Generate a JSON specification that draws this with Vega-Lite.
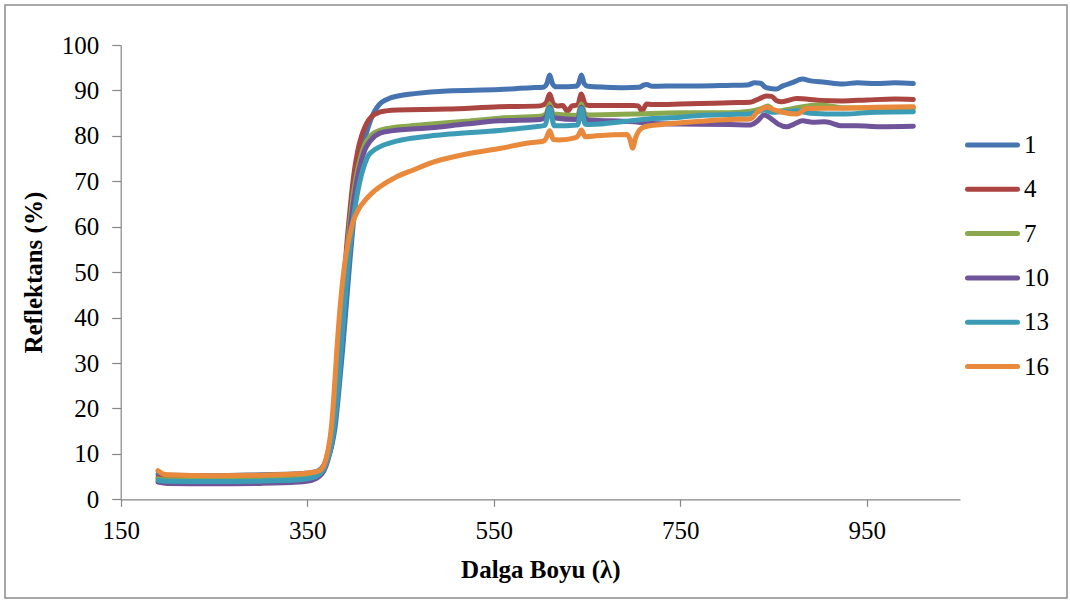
{
  "$schema": "https://vega.github.io/schema/vega-lite/v6.json",
  "width": 1062,
  "height": 593,
  "autosize": {"type": "none"},
  "padding": {"left": 5, "top": 5, "right": 3, "bottom": 5},
  "background": "white",
  "config": {"view": {"stroke": "#8c8c8c", "strokeWidth": 1.5}, "font": "Liberation Serif"},
  "data": {"values": [
{"s":"1","x":190,"y":5.5},{"s":"1","x":200,"y":5.3},{"s":"1","x":250,"y":5.2},{"s":"1","x":300,"y":5.4},{"s":"1","x":340,"y":5.6},{"s":"1","x":355,"y":5.9},{"s":"1","x":362,"y":6.3},{"s":"1","x":368,"y":7.5},{"s":"1","x":372,"y":9},{"s":"1","x":376,"y":11.5},{"s":"1","x":380,"y":16},{"s":"1","x":384,"y":24},{"s":"1","x":388,"y":33},{"s":"1","x":392,"y":43},{"s":"1","x":396,"y":53},{"s":"1","x":400,"y":62},{"s":"1","x":404,"y":70},{"s":"1","x":408,"y":75.5},{"s":"1","x":412,"y":79.5},{"s":"1","x":416,"y":82.3},{"s":"1","x":420,"y":84.5},{"s":"1","x":425,"y":86.3},{"s":"1","x":430,"y":87.4},{"s":"1","x":440,"y":88.4},{"s":"1","x":450,"y":88.9},{"s":"1","x":465,"y":89.3},{"s":"1","x":500,"y":89.9},{"s":"1","x":556,"y":90.2},{"s":"1","x":590,"y":90.6},{"s":"1","x":603,"y":90.7},{"s":"1","x":607,"y":91.5},{"s":"1","x":610,"y":93.4},{"s":"1","x":613,"y":91.5},{"s":"1","x":617,"y":90.8},{"s":"1","x":630,"y":90.8},{"s":"1","x":638,"y":90.9},{"s":"1","x":641,"y":91.5},{"s":"1","x":644,"y":93.4},{"s":"1","x":647,"y":91.5},{"s":"1","x":651,"y":90.9},{"s":"1","x":670,"y":90.7},{"s":"1","x":690,"y":90.6},{"s":"1","x":706,"y":90.7},{"s":"1","x":711,"y":91.2},{"s":"1","x":714,"y":91.3},{"s":"1","x":720,"y":90.9},{"s":"1","x":750,"y":91.0},{"s":"1","x":771,"y":91.0},{"s":"1","x":800,"y":91.1},{"s":"1","x":822,"y":91.2},{"s":"1","x":830,"y":91.7},{"s":"1","x":836,"y":91.6},{"s":"1","x":842,"y":90.6},{"s":"1","x":848,"y":90.4},{"s":"1","x":853,"y":90.3},{"s":"1","x":860,"y":91.0},{"s":"1","x":870,"y":91.7},{"s":"1","x":881,"y":92.5},{"s":"1","x":890,"y":92.1},{"s":"1","x":905,"y":91.8},{"s":"1","x":924,"y":91.4},{"s":"1","x":940,"y":91.7},{"s":"1","x":960,"y":91.5},{"s":"1","x":980,"y":91.7},{"s":"1","x":1000,"y":91.5},
{"s":"4","x":190,"y":4.8},{"s":"4","x":200,"y":4.6},{"s":"4","x":250,"y":4.5},{"s":"4","x":300,"y":4.6},{"s":"4","x":340,"y":4.9},{"s":"4","x":355,"y":5.3},{"s":"4","x":362,"y":6},{"s":"4","x":368,"y":7.5},{"s":"4","x":372,"y":10},{"s":"4","x":376,"y":14},{"s":"4","x":380,"y":21},{"s":"4","x":384,"y":32},{"s":"4","x":388,"y":44},{"s":"4","x":392,"y":55},{"s":"4","x":396,"y":64},{"s":"4","x":400,"y":71.5},{"s":"4","x":404,"y":76.5},{"s":"4","x":408,"y":79.8},{"s":"4","x":412,"y":82.0},{"s":"4","x":416,"y":83.5},{"s":"4","x":420,"y":84.4},{"s":"4","x":425,"y":85.0},{"s":"4","x":435,"y":85.5},{"s":"4","x":447,"y":85.7},{"s":"4","x":500,"y":85.9},{"s":"4","x":556,"y":86.4},{"s":"4","x":600,"y":86.6},{"s":"4","x":606,"y":87.2},{"s":"4","x":610,"y":89.2},{"s":"4","x":614,"y":87.0},{"s":"4","x":618,"y":86.6},{"s":"4","x":624,"y":86.7},{"s":"4","x":629,"y":85.4},{"s":"4","x":634,"y":86.6},{"s":"4","x":640,"y":86.8},{"s":"4","x":644,"y":89.2},{"s":"4","x":648,"y":87.0},{"s":"4","x":652,"y":86.7},{"s":"4","x":700,"y":86.7},{"s":"4","x":705,"y":86.6},{"s":"4","x":709,"y":85.5},{"s":"4","x":714,"y":87.0},{"s":"4","x":720,"y":86.9},{"s":"4","x":750,"y":87.0},{"s":"4","x":771,"y":87.1},{"s":"4","x":803,"y":87.3},{"s":"4","x":825,"y":87.4},{"s":"4","x":835,"y":88.2},{"s":"4","x":843,"y":88.8},{"s":"4","x":848,"y":88.7},{"s":"4","x":853,"y":87.8},{"s":"4","x":859,"y":87.5},{"s":"4","x":875,"y":88.2},{"s":"4","x":900,"y":87.8},{"s":"4","x":924,"y":87.7},{"s":"4","x":950,"y":87.9},{"s":"4","x":980,"y":88.1},{"s":"4","x":1000,"y":88.0},
{"s":"7","x":190,"y":4.5},{"s":"7","x":200,"y":4.3},{"s":"7","x":250,"y":4.2},{"s":"7","x":300,"y":4.3},{"s":"7","x":340,"y":4.6},{"s":"7","x":355,"y":5},{"s":"7","x":362,"y":5.7},{"s":"7","x":368,"y":7},{"s":"7","x":372,"y":9.3},{"s":"7","x":376,"y":13},{"s":"7","x":380,"y":20},{"s":"7","x":384,"y":30},{"s":"7","x":388,"y":42},{"s":"7","x":392,"y":52.5},{"s":"7","x":396,"y":61.5},{"s":"7","x":400,"y":68},{"s":"7","x":404,"y":72.5},{"s":"7","x":408,"y":75.8},{"s":"7","x":412,"y":78.2},{"s":"7","x":416,"y":79.5},{"s":"7","x":420,"y":80.4},{"s":"7","x":433,"y":81.5},{"s":"7","x":460,"y":82.2},{"s":"7","x":483,"y":82.6},{"s":"7","x":520,"y":83.2},{"s":"7","x":556,"y":83.9},{"s":"7","x":600,"y":84.3},{"s":"7","x":606,"y":84.8},{"s":"7","x":610,"y":87.0},{"s":"7","x":614,"y":84.8},{"s":"7","x":640,"y":84.5},{"s":"7","x":644,"y":87.0},{"s":"7","x":648,"y":84.8},{"s":"7","x":652,"y":84.6},{"s":"7","x":700,"y":84.8},{"s":"7","x":750,"y":85.1},{"s":"7","x":803,"y":85.1},{"s":"7","x":825,"y":85.4},{"s":"7","x":837,"y":86.0},{"s":"7","x":844,"y":86.6},{"s":"7","x":852,"y":85.4},{"s":"7","x":870,"y":86.0},{"s":"7","x":899,"y":86.8},{"s":"7","x":924,"y":86.2},{"s":"7","x":960,"y":86.1},{"s":"7","x":1000,"y":86.1},
{"s":"10","x":190,"y":3.8},{"s":"10","x":200,"y":3.5},{"s":"10","x":250,"y":3.4},{"s":"10","x":300,"y":3.5},{"s":"10","x":340,"y":3.8},{"s":"10","x":355,"y":4.2},{"s":"10","x":362,"y":4.9},{"s":"10","x":368,"y":6.3},{"s":"10","x":372,"y":8.5},{"s":"10","x":376,"y":12},{"s":"10","x":380,"y":18.5},{"s":"10","x":384,"y":28},{"s":"10","x":388,"y":40},{"s":"10","x":392,"y":50.5},{"s":"10","x":396,"y":59.5},{"s":"10","x":400,"y":66},{"s":"10","x":404,"y":71},{"s":"10","x":408,"y":74.5},{"s":"10","x":412,"y":77},{"s":"10","x":418,"y":79},{"s":"10","x":428,"y":80.6},{"s":"10","x":440,"y":81.1},{"s":"10","x":483,"y":81.8},{"s":"10","x":520,"y":82.6},{"s":"10","x":556,"y":83.3},{"s":"10","x":600,"y":83.6},{"s":"10","x":606,"y":84.2},{"s":"10","x":610,"y":86.3},{"s":"10","x":614,"y":84.0},{"s":"10","x":640,"y":83.6},{"s":"10","x":644,"y":86.3},{"s":"10","x":648,"y":83.8},{"s":"10","x":652,"y":83.5},{"s":"10","x":700,"y":83.1},{"s":"10","x":720,"y":82.7},{"s":"10","x":750,"y":82.6},{"s":"10","x":803,"y":82.5},{"s":"10","x":825,"y":82.4},{"s":"10","x":833,"y":83.3},{"s":"10","x":840,"y":84.6},{"s":"10","x":848,"y":83.7},{"s":"10","x":855,"y":82.6},{"s":"10","x":864,"y":82.0},{"s":"10","x":872,"y":82.6},{"s":"10","x":881,"y":83.3},{"s":"10","x":892,"y":83.0},{"s":"10","x":905,"y":83.1},{"s":"10","x":924,"y":82.2},{"s":"10","x":940,"y":82.2},{"s":"10","x":964,"y":82.0},{"s":"10","x":1000,"y":82.1},
{"s":"13","x":190,"y":4.2},{"s":"13","x":200,"y":4.0},{"s":"13","x":250,"y":3.9},{"s":"13","x":300,"y":4.0},{"s":"13","x":340,"y":4.3},{"s":"13","x":355,"y":4.7},{"s":"13","x":362,"y":5.4},{"s":"13","x":368,"y":6.7},{"s":"13","x":372,"y":8.8},{"s":"13","x":376,"y":12},{"s":"13","x":380,"y":18},{"s":"13","x":384,"y":26.5},{"s":"13","x":388,"y":37.5},{"s":"13","x":392,"y":47.5},{"s":"13","x":396,"y":56},{"s":"13","x":400,"y":62.5},{"s":"13","x":404,"y":67.5},{"s":"13","x":408,"y":71.3},{"s":"13","x":412,"y":74.0},{"s":"13","x":416,"y":75.8},{"s":"13","x":420,"y":76.6},{"s":"13","x":426,"y":77.4},{"s":"13","x":447,"y":78.9},{"s":"13","x":475,"y":79.8},{"s":"13","x":503,"y":80.4},{"s":"13","x":556,"y":81.2},{"s":"13","x":590,"y":81.9},{"s":"13","x":605,"y":82.3},{"s":"13","x":610,"y":86.0},{"s":"13","x":615,"y":82.2},{"s":"13","x":640,"y":82.4},{"s":"13","x":644,"y":86.0},{"s":"13","x":648,"y":82.6},{"s":"13","x":652,"y":82.5},{"s":"13","x":700,"y":83.4},{"s":"13","x":720,"y":83.8},{"s":"13","x":750,"y":84.1},{"s":"13","x":771,"y":84.5},{"s":"13","x":803,"y":84.7},{"s":"13","x":825,"y":84.8},{"s":"13","x":840,"y":85.7},{"s":"13","x":848,"y":85.2},{"s":"13","x":858,"y":85.3},{"s":"13","x":875,"y":85.5},{"s":"13","x":889,"y":85.0},{"s":"13","x":924,"y":84.8},{"s":"13","x":960,"y":85.2},{"s":"13","x":1000,"y":85.3},
{"s":"16","x":190,"y":6.3},{"s":"16","x":195,"y":5.6},{"s":"16","x":200,"y":5.4},{"s":"16","x":250,"y":5.2},{"s":"16","x":300,"y":5.3},{"s":"16","x":340,"y":5.6},{"s":"16","x":355,"y":5.9},{"s":"16","x":363,"y":6.3},{"s":"16","x":368,"y":7.5},{"s":"16","x":372,"y":10.5},{"s":"16","x":376,"y":16},{"s":"16","x":379,"y":24},{"s":"16","x":382,"y":33.5},{"s":"16","x":386,"y":44},{"s":"16","x":390,"y":51.5},{"s":"16","x":394,"y":56.5},{"s":"16","x":399,"y":61},{"s":"16","x":405,"y":63.8},{"s":"16","x":410,"y":65.3},{"s":"16","x":420,"y":67.5},{"s":"16","x":428,"y":68.8},{"s":"16","x":446,"y":71.0},{"s":"16","x":465,"y":72.6},{"s":"16","x":482,"y":74.0},{"s":"16","x":521,"y":76.0},{"s":"16","x":556,"y":77.2},{"s":"16","x":589,"y":78.5},{"s":"16","x":603,"y":78.8},{"s":"16","x":606,"y":79.4},{"s":"16","x":610,"y":81.1},{"s":"16","x":614,"y":79.2},{"s":"16","x":620,"y":79.1},{"s":"16","x":638,"y":79.6},{"s":"16","x":641,"y":80.2},{"s":"16","x":644,"y":81.3},{"s":"16","x":648,"y":79.8},{"s":"16","x":660,"y":80.0},{"s":"16","x":693,"y":80.3},{"s":"16","x":696,"y":79.3},{"s":"16","x":699,"y":77.3},{"s":"16","x":702,"y":79.5},{"s":"16","x":706,"y":81.2},{"s":"16","x":712,"y":82.0},{"s":"16","x":730,"y":82.5},{"s":"16","x":771,"y":83.2},{"s":"16","x":803,"y":83.6},{"s":"16","x":825,"y":83.7},{"s":"16","x":833,"y":85.3},{"s":"16","x":843,"y":86.3},{"s":"16","x":850,"y":85.8},{"s":"16","x":860,"y":85.2},{"s":"16","x":875,"y":84.8},{"s":"16","x":886,"y":86.0},{"s":"16","x":924,"y":86.1},{"s":"16","x":960,"y":86.3},{"s":"16","x":1000,"y":86.4}
  ]},
  "mark": {"type": "line", "strokeWidth": 5, "strokeCap": "round", "strokeJoin": "round", "interpolate": "monotone"},
  "encoding": {
    "x": {
      "field": "x", "type": "quantitative",
      "scale": {"domain": [150, 1050], "range": [115.7, 955], "nice": false, "zero": false},
      "axis": {
        "orient": "bottom", "offset": -98.7, "values": [150, 350, 550, 750, 950], "grid": false,
        "domainColor": "#868686", "domainWidth": 1.2, "tickColor": "#868686", "tickWidth": 1.2, "tickSize": 7,
        "labelFont": "Liberation Serif", "labelFontSize": 25, "labelColor": "#000000", "labelPadding": 12,
        "labelFlush": false, "labelOverlap": false,
        "title": "Dalga Boyu (λ)", "titleFont": "Liberation Serif", "titleFontSize": 25, "titleFontWeight": "bold",
        "titleColor": "#000000", "titleX": 535.35, "titleY": 77.7, "titleBaseline": "alphabetic", "titleAlign": "center"
      }
    },
    "y": {
      "field": "y", "type": "quantitative",
      "scale": {"domain": [0, 100], "range": [494.3, 40], "nice": false, "zero": false},
      "axis": {
        "orient": "left", "offset": -115.7, "values": [0, 10, 20, 30, 40, 50, 60, 70, 80, 90, 100], "grid": false,
        "domainColor": "#868686", "domainWidth": 1.2, "tickColor": "#868686", "tickWidth": 1.2, "tickSize": 9,
        "labelFont": "Liberation Serif", "labelFontSize": 25, "labelColor": "#000000", "labelPadding": 13,
        "labelFlush": false, "labelOverlap": false,
        "title": "Reflektans (%)", "titleFont": "Liberation Serif", "titleFontSize": 25, "titleFontWeight": "bold",
        "titleColor": "#000000", "titleX": -79.7, "titleY": 267.15, "titleAngle": -90, "titleBaseline": "alphabetic", "titleAlign": "center"
      }
    },
    "color": {
      "field": "s", "type": "nominal",
      "scale": {"domain": ["1", "4", "7", "10", "13", "16"], "range": ["#4674B1", "#AA4542", "#8BA84F", "#70549A", "#3C9CB6", "#E8893C"]},
      "legend": {
        "orient": "none", "legendX": 960, "legendY": 112.5, "title": null, "padding": 0,
        "symbolType": "stroke", "symbolSize": 2500, "symbolStrokeWidth": 5, "symbolOffset": 0,
        "labelFont": "Liberation Serif", "labelFontSize": 25, "labelColor": "#000000", "labelOffset": 4,
        "rowPadding": 3.3,
        "encode": {"symbols": {"update": {"strokeCap": {"value": "round"}}}}
      }
    }
  }
}
